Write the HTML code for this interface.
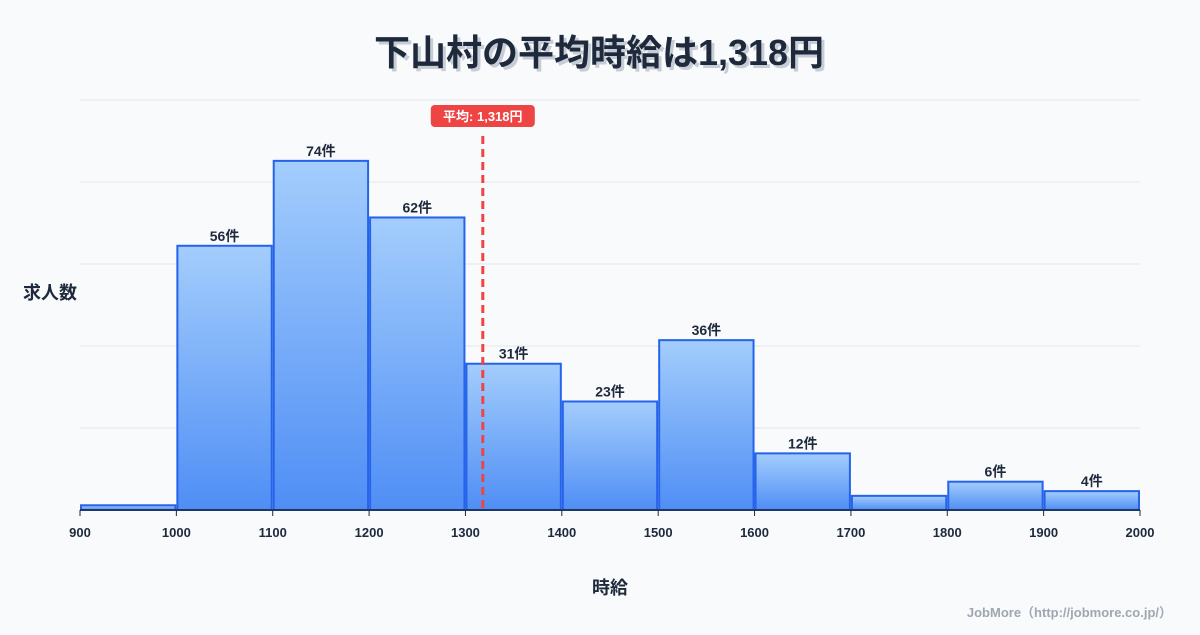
<!DOCTYPE html>
<html><head><meta charset="utf-8"><style>
body{margin:0;background:#f8fafc;}
svg text{font-family:"Liberation Sans","Noto Sans CJK JP",sans-serif;}
</style></head><body>
<svg id="c" width="1200" height="630" xmlns="http://www.w3.org/2000/svg">
<defs><linearGradient id="g" x1="0" y1="0" x2="0" y2="1"><stop offset="0" stop-color="#a3cdfc"/><stop offset="1" stop-color="#4f8ef5"/></linearGradient></defs>
<text x="602" y="68" text-anchor="middle" font-size="36" font-weight="bold" fill="#c7cdd6">下山村の平均時給は1,318円</text>
<text x="599" y="65" text-anchor="middle" font-size="36" font-weight="bold" fill="#1e293b">下山村の平均時給は1,318円</text>
<text x="50" y="299" text-anchor="middle" font-size="18" font-weight="bold" fill="#1e293b">求人数</text>
<text x="610" y="594" text-anchor="middle" font-size="18" font-weight="bold" fill="#1e293b">時給</text>
<text x="1172" y="617" text-anchor="end" font-size="13" font-weight="bold" fill="#a0a7b1">JobMore（http://jobmore.co.jp/）</text>
<g id="grid"></g><g id="bars"></g><g id="ticks"></g><g id="mean"></g>
</svg>
<script>
const binStarts=[900,1000,1100,1200,1300,1400,1500,1600,1700,1800,1900];
const counts=[1,56,74,62,31,23,36,12,3,6,4];
const showLabel=[false,true,true,true,true,true,true,true,false,true,true];
const tickLabels=[900,1000,1100,1200,1300,1400,1500,1600,1700,1800,1900,2000];
const meanValue=1318;
const NS='http://www.w3.org/2000/svg';
const X0=80,X1=1140,Y0=510,Y1=100,xmin=900,xmax=2000,ymax=86.9;
const x=v=>X0+(v-xmin)/(xmax-xmin)*(X1-X0);
const y=v=>Y0-v/ymax*(Y0-Y1);
function mk(t,a,p){const e=document.createElementNS(NS,t);for(const k in a)e.setAttribute(k,a[k]);p.appendChild(e);return e;}
const grid=document.getElementById('grid');
for(let i=1;i<=5;i++){const gy=Y0-i*(Y0-Y1)/5;const l=mk('line',{x1:X0,x2:X1,y1:gy,y2:gy,stroke:'#e5e7eb','stroke-width':1},grid);

}
const bars=document.getElementById('bars');
binStarts.forEach((b,i)=>{const x0=x(b)+1,x1=x(b+100)-1,yt=y(counts[i]);
const r=mk('rect',{x:x0,y:yt,width:x1-x0,height:Y0-yt,fill:'url(#g)',stroke:'#2563eb','stroke-width':2},bars);


if(showLabel[i]){const t=mk('text',{x:(x0+x1)/2,y:yt-5,'text-anchor':'middle','font-size':14,'font-weight':'bold',fill:'#1e293b'},bars);t.textContent=counts[i]+'件';

}});
const tk=document.getElementById('ticks');
const ax=mk('line',{x1:X0,x2:X1,y1:Y0,y2:Y0,stroke:'#1e293b','stroke-width':1.5},tk);


tickLabels.forEach(v=>{const l=mk('line',{x1:x(v),x2:x(v),y1:Y0,y2:Y0+6,stroke:'#1e293b'},tk);


const t=mk('text',{x:x(v),y:537,'text-anchor':'middle','font-size':13,'font-weight':'bold',fill:'#1e293b'},tk);t.textContent=v;

});
const m=document.getElementById('mean');const mx=x(meanValue);
const ml=mk('line',{x1:mx,x2:mx,y1:136,y2:Y0,stroke:'#ef4444','stroke-width':3,'stroke-dasharray':'8,5'},m);


const mr=mk('rect',{x:mx-52,y:105,width:104,height:22,rx:4,fill:'#ef4444'},m);


const mt=mk('text',{x:mx,y:121,'text-anchor':'middle','font-size':13,'font-weight':'bold',fill:'#fff'},m);mt.textContent='平均: 1,318円';


</script>
</body></html>
